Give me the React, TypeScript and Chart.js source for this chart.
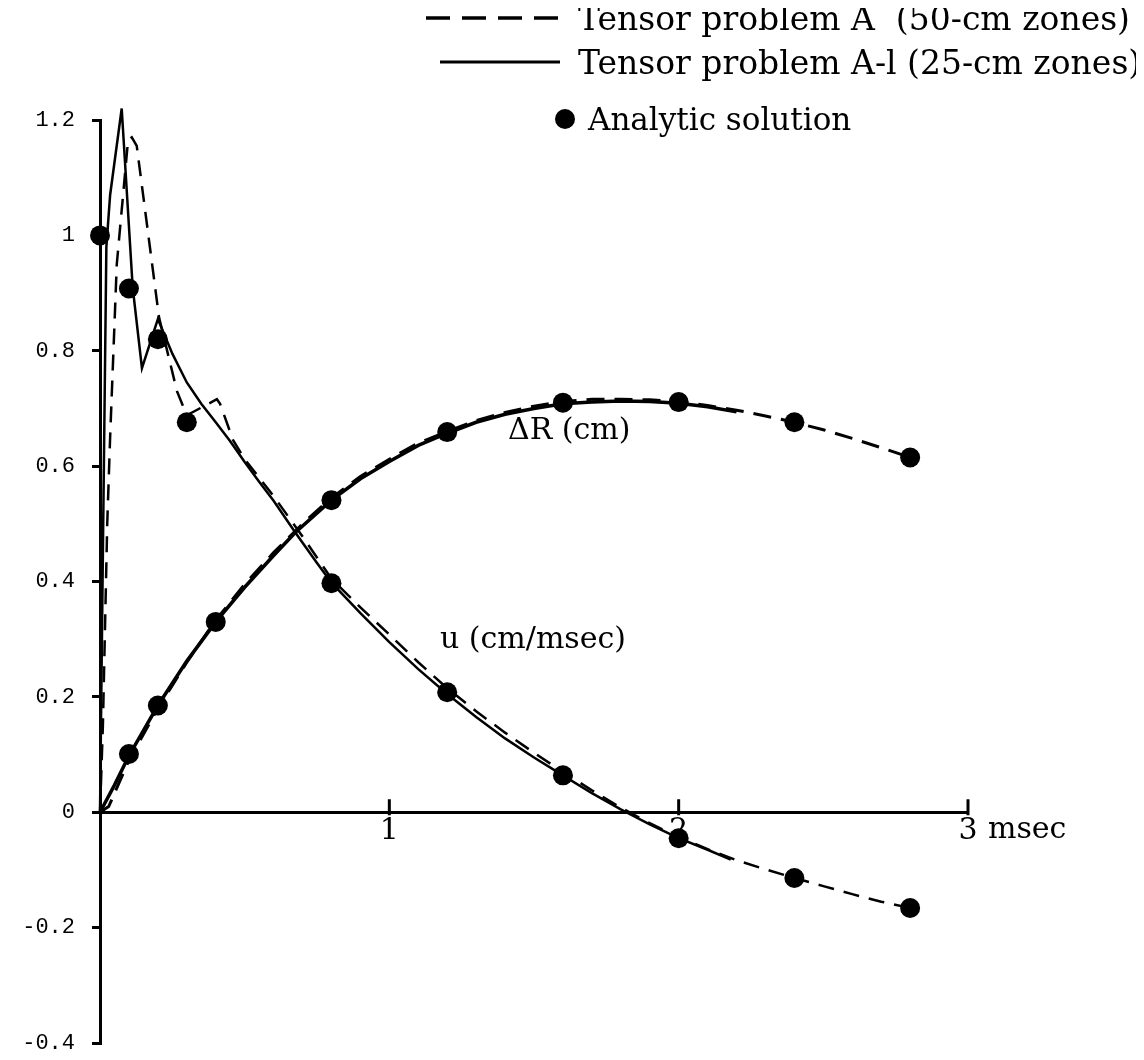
import React, { useEffect, useRef } from 'react';
import { Chart, registerables } from 'chart.js';

Chart.register(...registerables);

// ---------- data (time in msec) ----------
// Tensor problem A-1 (25-cm zones), velocity u
const tSolidU = [0, 0.01, 0.022, 0.035, 0.075, 0.113, 0.145, 0.2, 0.25, 0.3, 0.35, 0.4, 0.45, 0.5, 0.55, 0.6, 0.675, 0.75, 0.8, 0.9, 1.0, 1.1, 1.2, 1.3, 1.4, 1.5, 1.6, 1.7, 1.8, 1.9, 2.0, 2.1, 2.18];
const uSolid = [0, 0.45, 0.98, 1.07, 1.22, 0.91, 0.77, 0.855, 0.795, 0.745, 0.708, 0.676, 0.643, 0.607, 0.573, 0.54, 0.485, 0.432, 0.398, 0.345, 0.295, 0.248, 0.205, 0.165, 0.128, 0.095, 0.064, 0.033, 0.005, -0.021, -0.045, -0.065, -0.082];

// Tensor problem A (50-cm zones), velocity u
const tDashU = [0, 0.01, 0.025, 0.035, 0.058, 0.097, 0.11, 0.127, 0.204, 0.266, 0.3, 0.404, 0.415, 0.46, 0.5, 0.6, 0.7, 0.8, 0.9, 1.0, 1.1, 1.2, 1.3, 1.4, 1.5, 1.6, 1.7, 1.8, 1.9, 2.0, 2.1, 2.2, 2.3, 2.4, 2.5, 2.6, 2.7, 2.8];
const uDash = [0, 0.15, 0.5, 0.65, 0.95, 1.165, 1.17, 1.155, 0.858, 0.73, 0.688, 0.716, 0.708, 0.645, 0.612, 0.548, 0.478, 0.405, 0.355, 0.308, 0.26, 0.215, 0.175, 0.138, 0.103, 0.07, 0.038, 0.008, -0.019, -0.043, -0.064, -0.083, -0.099, -0.114, -0.128, -0.142, -0.155, -0.166];

// Tensor problem A-1 (25-cm zones), displacement ΔR
const tSolidR = [0, 0.05, 0.1, 0.2, 0.3, 0.4, 0.5, 0.6, 0.675, 0.8, 0.9, 1.0, 1.1, 1.2, 1.3, 1.4, 1.5, 1.6, 1.7, 1.8, 1.9, 2.0, 2.1, 2.2];
const rSolid = [0, 0.047, 0.098, 0.185, 0.262, 0.33, 0.39, 0.445, 0.485, 0.541, 0.578, 0.608, 0.636, 0.657, 0.676, 0.69, 0.7, 0.708, 0.711, 0.713, 0.712, 0.709, 0.703, 0.694];

// Tensor problem A (50-cm zones), displacement ΔR
const tDashR = [0, 0.03, 0.1, 0.2, 0.3, 0.4, 0.5, 0.6, 0.7, 0.8, 0.9, 1.0, 1.1, 1.2, 1.3, 1.4, 1.5, 1.6, 1.7, 1.8, 1.9, 2.0, 2.1, 2.2, 2.3, 2.4, 2.5, 2.6, 2.7, 2.8];
const rDash = [0, 0.01, 0.09, 0.18, 0.26, 0.333, 0.395, 0.45, 0.5, 0.545, 0.582, 0.612, 0.64, 0.66, 0.679, 0.693, 0.704, 0.712, 0.716, 0.716, 0.715, 0.712, 0.705, 0.697, 0.687, 0.676, 0.663, 0.648, 0.632, 0.615];

// Analytic solution
const tAnaU = [0, 0.1, 0.2, 0.3, 0.8, 1.2, 1.6, 2.0, 2.4, 2.8];
const uAna = [1.0, 0.908, 0.82, 0.676, 0.397, 0.208, 0.064, -0.045, -0.114, -0.166];
const tAnaR = [0.1, 0.2, 0.4, 0.8, 1.2, 1.6, 2.0, 2.4, 2.8];
const rAna = [0.101, 0.185, 0.33, 0.541, 0.659, 0.71, 0.711, 0.676, 0.615];

// ---------- text ----------
const legendLabels = ['Tensor problem A  (50-cm zones)', 'Tensor problem A-l (25-cm zones)', 'Analytic solution'];
const curveLabels = ['\u0394R (cm)', 'u (cm/msec)'];
const curveLabelAt = [[1.41, 0.66], [1.175, 0.298]];
const xUnit = 'msec';
const xRange = [0, 3];
const yRange = [-0.4, 1.2];

const zip = (xs: number[], ys: number[]) => xs.map((x, i) => ({ x, y: ys[i] }));

const SERIF = '"DejaVu Serif", serif';
const MONO = '"Liberation Mono", monospace';

const noPad = (s: any) => {
  s.paddingTop = 0;
  s.paddingBottom = 0;
};

const overlay = {
  id: 'overlay',
  afterDraw(chart: any) {
    const { ctx } = chart;
    const xs = chart.scales.x;
    const ys = chart.scales.y;
    const y0 = ys.getPixelForValue(0);
    ctx.save();
    ctx.fillStyle = '#000';
    ctx.strokeStyle = '#000';
    // x tick marks
    ctx.lineWidth = 3;
    ctx.setLineDash([]);
    xs.ticks.forEach((t: any) => {
      if (t.value > 0) {
        const px = xs.getPixelForValue(t.value);
        ctx.beginPath();
        ctx.moveTo(px, y0 - 13);
        ctx.lineTo(px, y0 + 3);
        ctx.stroke();
      }
    });
    // axis unit
    ctx.font = '30px ' + SERIF;
    ctx.textBaseline = 'middle';
    ctx.textAlign = 'left';
    ctx.fillText(xUnit, xs.getPixelForValue(xRange[1]) + 20, y0 + 18);
    // curve labels
    curveLabels.forEach((txt, i) => {
      ctx.fillText(txt, xs.getPixelForValue(curveLabelAt[i][0]), ys.getPixelForValue(curveLabelAt[i][1]));
    });
    // legend
    const rows = [18, 62, 119];
    ctx.lineWidth = 3.5;
    ctx.setLineDash([24, 12]);
    ctx.beginPath();
    ctx.moveTo(426, rows[0]);
    ctx.lineTo(558, rows[0]);
    ctx.stroke();
    ctx.setLineDash([]);
    ctx.lineWidth = 3;
    ctx.beginPath();
    ctx.moveTo(440, rows[1]);
    ctx.lineTo(560, rows[1]);
    ctx.stroke();
    ctx.beginPath();
    ctx.arc(565, rows[2], 10, 0, Math.PI * 2);
    ctx.fill();
    ctx.textBaseline = 'alphabetic';
    ctx.font = '33px ' + SERIF;
    ctx.fillText(legendLabels[0], 578, rows[0] + 12);
    ctx.fillText(legendLabels[1], 578, rows[1] + 12);
    ctx.font = '31px ' + SERIF;
    ctx.fillText(legendLabels[2], 588, rows[2] + 11);
    ctx.restore();
  },
};

export default function App() {
  const ref = useRef<HTMLCanvasElement>(null);
  useEffect(() => {
    if (!ref.current) return;
    const chart = new Chart(ref.current, {
      type: 'scatter',
      data: {
        datasets: [
          {
            label: 'Analytic solution (u)',
            data: zip(tAnaU, uAna),
            showLine: false,
            pointRadius: 10,
            pointBackgroundColor: '#000',
            pointBorderWidth: 0,
            clip: false,
            order: 0,
          },
          {
            label: 'Analytic solution (ΔR)',
            data: zip(tAnaR, rAna),
            showLine: false,
            pointRadius: 10,
            pointBackgroundColor: '#000',
            pointBorderWidth: 0,
            clip: false,
            order: 0,
          },
          {
            label: 'Tensor problem A-l u',
            data: zip(tSolidU, uSolid),
            showLine: true,
            borderColor: '#000',
            borderWidth: 2.5,
            pointRadius: 0,
            tension: 0,
            clip: false,
            order: 1,
          },
          {
            label: 'Tensor problem A u',
            data: zip(tDashU, uDash),
            showLine: true,
            borderColor: '#000',
            borderWidth: 2.5,
            borderDash: [16, 10],
            pointRadius: 0,
            tension: 0,
            clip: false,
            order: 1,
          },
          {
            label: 'Tensor problem A-l ΔR',
            data: zip(tSolidR, rSolid),
            showLine: true,
            borderColor: '#000',
            borderWidth: 3.5,
            pointRadius: 0,
            tension: 0,
            clip: false,
            order: 1,
          },
          {
            label: 'Tensor problem A ΔR',
            data: zip(tDashR, rDash),
            showLine: true,
            borderColor: '#000',
            borderWidth: 3,
            borderDash: [18, 10],
            pointRadius: 0,
            tension: 0,
            clip: false,
            order: 1,
          },
        ],
      },
      options: {
        animation: false,
        responsive: false,
        devicePixelRatio: 1,
        events: [],
        layout: { padding: { top: 120, bottom: 17, left: 0, right: 176 } },
        plugins: { legend: { display: false }, tooltip: { enabled: false } },
        scales: {
          x: {
            type: 'linear',
            position: { y: 0 } as any,
            min: xRange[0],
            max: xRange[1],
            afterFit: noPad,
            ticks: {
              stepSize: 1,
              color: '#000',
              padding: 1,
              font: { family: SERIF, size: 30 },
              callback: (v: any) => (Number(v) === 0 ? '' : String(v)),
            },
            grid: { display: true, drawOnChartArea: false, drawTicks: false },
            border: { display: true, color: '#000', width: 3 },
          },
          y: {
            type: 'linear',
            position: 'left',
            min: yRange[0],
            max: yRange[1],
            afterFit: (s: any) => {
              s.width = 100;
              noPad(s);
            },
            ticks: {
              stepSize: 0.2,
              color: '#000',
              padding: 17,
              font: { family: MONO, size: 22 },
              callback: (v: any) => String(Number(Number(v).toFixed(1))),
            },
            grid: {
              display: true,
              drawOnChartArea: false,
              drawTicks: true,
              tickLength: 8,
              tickWidth: 3,
              tickColor: '#000',
              color: '#000',
              lineWidth: 3,
            },
            border: { display: true, color: '#000', width: 3 },
          },
        },
      },
      plugins: [overlay],
    } as any);
    return () => chart.destroy();
  }, []);
  return (
    <div style={{ width: 1144, height: 1060, margin: -8, background: '#fff' }}>
      <canvas ref={ref} width={1144} height={1060} style={{ display: 'block' }} />
    </div>
  );
}
